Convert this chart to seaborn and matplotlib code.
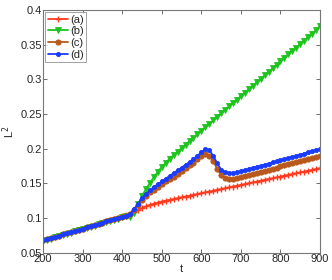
import numpy as np
import seaborn as sns
import matplotlib
matplotlib.use("Agg")
import matplotlib.pyplot as plt

# sampling grid (every 10 time units)
t = np.arange(200, 901, 10)

# (a) red
curve_a = [0.068, 0.0697, 0.0714, 0.0731, 0.0748, 0.0765, 0.0782, 0.0799, 0.0816, 0.0833,
           0.085, 0.0867, 0.0884, 0.0901, 0.0918, 0.0935, 0.0952, 0.0969, 0.0986, 0.1003,
           0.1025, 0.1045, 0.1058, 0.109, 0.112, 0.1145, 0.117, 0.119, 0.121, 0.1225,
           0.124, 0.1252, 0.1264, 0.1276, 0.1288, 0.13, 0.1312, 0.1324, 0.1336, 0.1348,
           0.136, 0.1372, 0.1384, 0.1396, 0.1408, 0.142, 0.1432, 0.1444, 0.1456, 0.1468,
           0.148, 0.1492, 0.1504, 0.1516, 0.1528, 0.154, 0.1552, 0.1564, 0.1576, 0.1588,
           0.16, 0.1612, 0.1624, 0.1636, 0.1648, 0.166, 0.1672, 0.1684, 0.1696, 0.1708,
           0.172]

# (b) green
curve_b = [0.0672, 0.0689, 0.0706, 0.0723, 0.074, 0.0757, 0.0774, 0.0791, 0.0808, 0.0825,
           0.0842, 0.0859, 0.0876, 0.0893, 0.091, 0.0927, 0.0944, 0.0961, 0.0978, 0.0995,
           0.1012, 0.1028, 0.1015, 0.108, 0.12, 0.132, 0.142, 0.151, 0.159, 0.167,
           0.174, 0.18, 0.186, 0.191, 0.196, 0.201, 0.206, 0.211, 0.216, 0.221,
           0.226, 0.231, 0.236, 0.241, 0.246, 0.251, 0.256, 0.261, 0.266, 0.271,
           0.276, 0.281, 0.286, 0.291, 0.296, 0.301, 0.306, 0.311, 0.316, 0.321,
           0.326, 0.331, 0.336, 0.341, 0.346, 0.351, 0.356, 0.361, 0.366, 0.371,
           0.377]

# (c) brown
curve_c = [0.068, 0.0697, 0.0714, 0.0731, 0.0748, 0.0765, 0.0782, 0.0799, 0.0816, 0.0833,
           0.085, 0.0867, 0.0884, 0.0901, 0.0918, 0.0935, 0.0952, 0.0969, 0.0986, 0.1003,
           0.102, 0.1035, 0.1055, 0.112, 0.119, 0.126, 0.132, 0.137, 0.141, 0.145,
           0.149, 0.153, 0.156, 0.16, 0.164, 0.168, 0.172, 0.176, 0.18, 0.185,
           0.189, 0.192, 0.19, 0.182, 0.171, 0.162, 0.158, 0.157, 0.157, 0.158,
           0.1595, 0.161, 0.1625, 0.164, 0.1655, 0.167, 0.1685, 0.17, 0.1715, 0.173,
           0.1745, 0.176, 0.1775, 0.179, 0.1805, 0.182, 0.1835, 0.185, 0.1865, 0.188,
           0.1895]

# (d) blue
curve_d = [0.068, 0.0697, 0.0714, 0.0731, 0.0748, 0.0765, 0.0782, 0.0799, 0.0816, 0.0833,
           0.085, 0.0867, 0.0884, 0.0901, 0.0918, 0.0935, 0.0952, 0.0969, 0.0986, 0.1003,
           0.102, 0.1035, 0.1055, 0.113, 0.121, 0.129, 0.135, 0.14, 0.145, 0.149,
           0.153, 0.157, 0.161, 0.165, 0.169, 0.173, 0.177, 0.181, 0.1855, 0.19,
           0.195, 0.199, 0.198, 0.19, 0.179, 0.17, 0.166, 0.165, 0.165, 0.166,
           0.1676, 0.1692, 0.1708, 0.1724, 0.174, 0.1756, 0.1772, 0.1788, 0.1804, 0.182,
           0.1836, 0.1852, 0.1868, 0.1884, 0.19, 0.1916, 0.1932, 0.1948, 0.1964, 0.198,
           0.1995]

labels = ["(a)", "(b)", "(c)", "(d)"]
x_ticks = [200, 300, 400, 500, 600, 700, 800, 900]
y_ticks = [0.05, 0.1, 0.15, 0.2, 0.25, 0.3, 0.35, 0.4]
y_tick_labels = ["0.05", "0.1", "0.15", "0.2", "0.25", "0.3", "0.35", "0.4"]

sns.set_style("ticks", {"xtick.direction": "in", "ytick.direction": "in"})
plt.rcParams['font.family'] = ['Liberation Sans', 'DejaVu Sans']

fig, ax = plt.subplots(figsize=(3.32, 2.8), dpi=100)
fig.subplots_adjust(left=0.13, right=0.964, bottom=0.097, top=0.964)

colors = ["#ff3b1f", "#1ec41e", "#b8581c", "#1a3cff"]
styles = [
    dict(marker="+", markersize=4.5, markeredgewidth=1.0),
    dict(marker="v", markersize=4.5, markeredgewidth=0.6),
    dict(marker="o", markersize=3.8, markeredgewidth=0.6),
    dict(marker="o", markersize=3.0, markeredgewidth=0.6),
]
for y, lab, c, st in zip([curve_a, curve_b, curve_c, curve_d], labels, colors, styles):
    sns.lineplot(x=t, y=y, ax=ax, label=lab, linewidth=1.3, color=c,
                 markeredgecolor=c, markerfacecolor=c, **st)

ax.set_xlim(200, 900)
ax.set_ylim(0.05, 0.4)
ax.set_xticks(x_ticks)
ax.set_yticks(y_ticks)
ax.set_yticklabels(y_tick_labels)
ax.tick_params(labelsize=8, length=3, width=0.6, color="#555555", pad=1,
               top=True, right=True)
for sp in ax.spines.values():
    sp.set_visible(True)
    sp.set_color("#777777")
    sp.set_linewidth(0.8)

ax.set_xlabel("t", fontsize=8, labelpad=0)
ax.set_ylabel("L$^2$", fontsize=8, labelpad=2)

leg = ax.legend(loc="upper left", fontsize=8, frameon=True, fancybox=False,
                borderaxespad=0.15, handlelength=1.8, handletextpad=0.2,
                labelspacing=0.15, borderpad=0.25)
leg.get_frame().set_edgecolor("#777777")
leg.get_frame().set_linewidth(0.6)

fig.savefig("out.png", dpi=100)
